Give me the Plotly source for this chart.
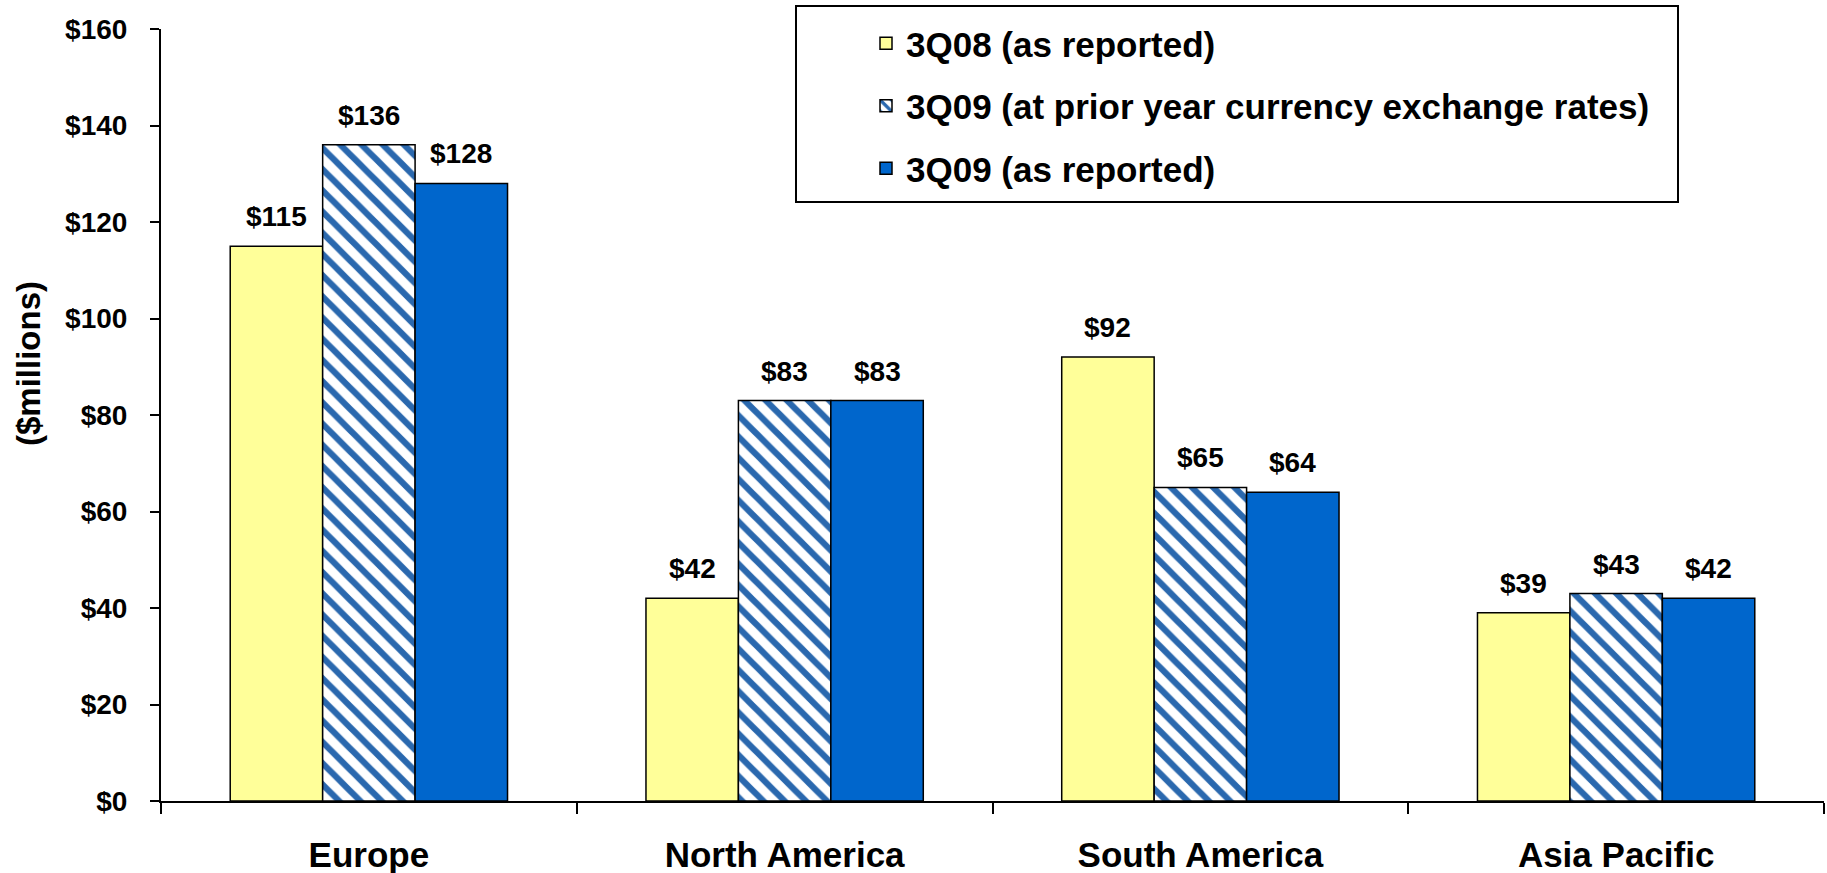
import plotly.graph_objects as go

# Regional values, $ millions
regions = ["Europe", "North America", "South America", "Asia Pacific"]
q3_2008_reported = [115, 42, 92, 39]
q3_2009_prior_fx = [136, 83, 65, 43]
q3_2009_reported = [128, 83, 64, 42]

series_names = [
    "3Q08 (as reported)",
    "3Q09 (at prior year currency exchange rates)",
    "3Q09 (as reported)",
]
y_ticks = [0, 20, 40, 60, 80, 100, 120, 140, 160]
y_tick_labels = ["$" + str(v) for v in y_ticks]

FONT = "Liberation Sans, Arial, sans-serif"
W, H = 1827, 873
ML, MR, MT, MB = 161, 3, 29, 72
PW, PH = W - ML - MR, H - MT - MB


def px_x(px):
    return (px - ML) / PW


def px_y(py):
    return (H - MB - py) / PH


BARGAP = 0.333
line = dict(color="black", width=1.5)

fig = go.Figure()
fig.add_trace(go.Bar(
    name=series_names[0], x=regions, y=q3_2008_reported,
    marker=dict(color="#FFFF99", line=line), legendgroup="a",
))
fig.add_trace(go.Bar(
    name=series_names[1], x=regions, y=q3_2009_prior_fx,
    marker=dict(color="white", line=line,
                pattern=dict(shape="\\", fgcolor="#2A68AE", bgcolor="white",
                             fgopacity=1, size=15, solidity=0.42)),
    legendgroup="b",
))
fig.add_trace(go.Bar(
    name=series_names[2], x=regions, y=q3_2009_reported,
    marker=dict(color="#0066CC", line=line), legendgroup="c",
))

# value labels above each bar
bar_w = (1 - BARGAP) / 3
annotations = []
for k, vals in enumerate([q3_2008_reported, q3_2009_prior_fx, q3_2009_reported]):
    for i, v in enumerate(vals):
        annotations.append(dict(
            x=i + (k - 1) * bar_w, y=v, xref="x", yref="y",
            text=f"${v}", showarrow=False, yanchor="bottom", yshift=12,
            font=dict(family=FONT, size=28, color="black", weight="bold"),
        ))

# y-axis title
annotations.append(dict(
    x=px_x(28), y=px_y(364), xref="paper", yref="paper",
    xanchor="center", yanchor="middle",
    text="($millions)", textangle=-90, showarrow=False,
    font=dict(family=FONT, size=33, color="black", weight="bold"),
))

fig.update_layout(
    width=W, height=H,
    margin=dict(l=ML, r=MR, t=MT, b=MB, autoexpand=False),
    paper_bgcolor="white", plot_bgcolor="white",
    barmode="group", bargap=BARGAP, bargroupgap=0,
    font=dict(family=FONT, color="black"),
    annotations=annotations,
    shapes=[dict(
        type="rect", xref="paper", yref="paper",
        x0=px_x(796), x1=px_x(1678), y0=px_y(202), y1=px_y(6),
        line=dict(color="black", width=2), fillcolor="rgba(0,0,0,0)",
    )],
    legend=dict(
        x=px_x(866), y=px_y(14), xanchor="left", yanchor="top",
        bgcolor="rgba(0,0,0,0)", borderwidth=0,
        font=dict(family=FONT, size=35, color="black", weight="bold"),
        tracegroupgap=14, traceorder="grouped",
    ),
    xaxis=dict(
        type="category", range=[-0.5, 3.5],
        showline=True, linecolor="black", linewidth=2,
        ticks="outside", tickson="boundaries", ticklen=11, tickwidth=1.5,
        tickcolor="black", ticklabelstandoff=22,
        tickfont=dict(family=FONT, size=35, color="black", weight="bold"),
        showgrid=False, zeroline=False,
    ),
    yaxis=dict(
        range=[0, 160], tickvals=y_ticks, ticktext=y_tick_labels,
        showline=True, linecolor="black", linewidth=2,
        ticks="outside", ticklen=9, tickwidth=2, tickcolor="black",
        ticklabelstandoff=17,
        tickfont=dict(family=FONT, size=28, color="black", weight="bold"),
        showgrid=False, zeroline=False,
    ),
)

fig.write_html("out.html")
